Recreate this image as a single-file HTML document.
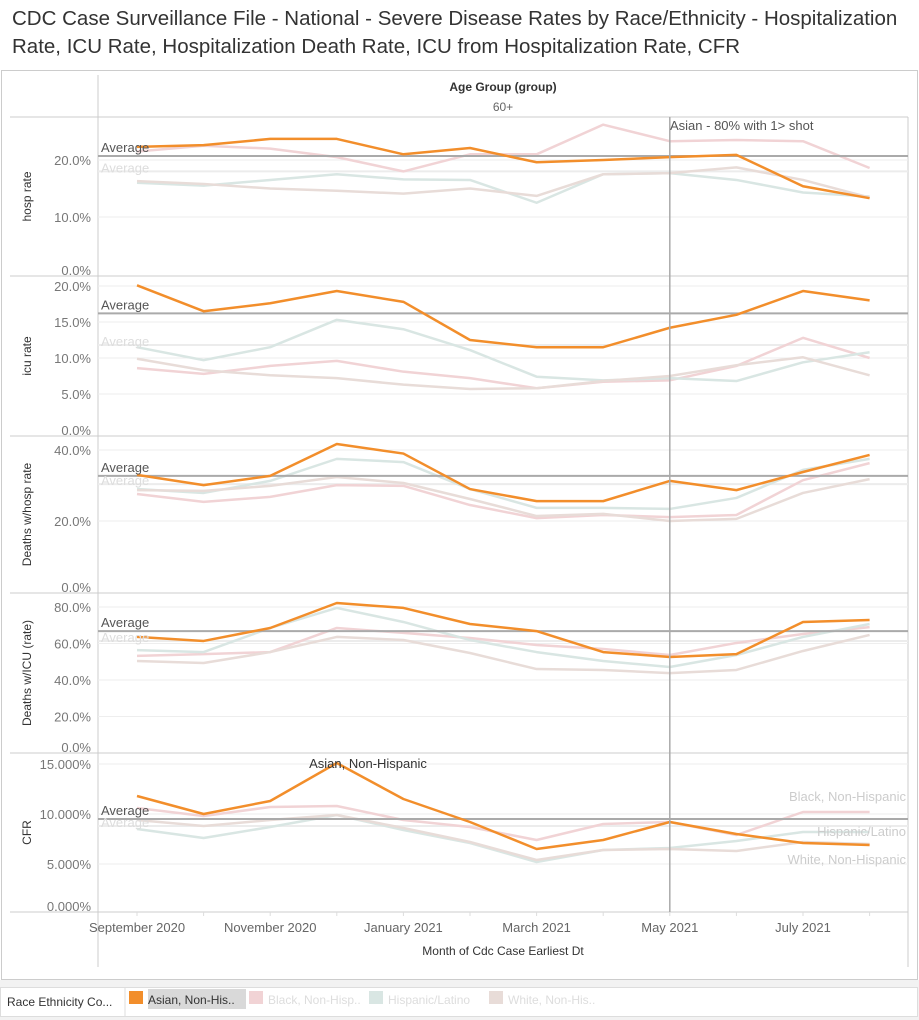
<!DOCTYPE html>
<html><head><meta charset="utf-8"><style>
body{margin:0;width:919px;height:1020px;background:#fff;font-family:"Liberation Sans",sans-serif;overflow:hidden;position:relative}
#title{position:absolute;left:12px;top:5px;font-size:20.5px;line-height:28px;color:#333;width:905px}
svg{position:absolute;left:0;top:0}
</style></head><body>
<div id="title">CDC Case Surveillance File - National - Severe Disease Rates by Race/Ethnicity - Hospitalization Rate, ICU Rate, Hospitalization Death Rate, ICU from Hospitalization Rate, CFR</div>
<svg id="c" width="919" height="1020"></svg>
<script>
const months=["Sep 2020","Oct 2020","Nov 2020","Dec 2020","Jan 2021","Feb 2021","Mar 2021","Apr 2021","May 2021","Jun 2021","Jul 2021","Aug 2021"];
const xLabels=[["September 2020",0],["November 2020",2],["January 2021",4],["March 2021",6],["May 2021",8],["July 2021",10]];
const seriesNames=["Black, Non-Hispanic","Hispanic/Latino","White, Non-Hispanic","Asian, Non-Hispanic"];
const hospAsian=[22.3,22.6,23.7,23.7,21,22.1,19.6,20,20.5,20.9,15.4,13.3];
const hospBlack=[21.5,22.5,22,20.5,18,21,21,26.2,23.3,23.5,23.3,18.6];
const hospHisp=[16,15.5,16.5,17.5,16.6,16.5,12.5,17.5,17.7,16.5,14.3,13.6];
const hospWhite=[16.3,15.8,15,14.6,14.1,15,13.7,17.5,17.7,18.7,16.5,13.4];
const icuAsian=[20.1,16.5,17.6,19.3,17.8,12.5,11.5,11.5,14.2,16,19.3,18];
const icuBlack=[8.6,7.8,8.9,9.6,8.1,7.2,5.8,6.7,6.9,8.9,12.8,10];
const icuHisp=[11.5,9.7,11.5,15.3,14,11.1,7.4,6.9,7.2,6.8,9.4,10.8];
const icuWhite=[9.9,8.3,7.6,7.2,6.3,5.7,5.8,6.8,7.5,9,10.1,7.6];
const dhAsian=[33,30.1,32.7,41.7,39,29,25.6,25.6,31.3,28.7,33.8,38.6];
const dhBlack=[27.6,25.4,26.8,30.1,29.9,24.5,20.8,21.7,21.1,21.7,31.5,36.3];
const dhHisp=[29,27.9,31.3,37.5,36.6,29,23.7,23.7,23.4,26.5,34.4,37.5];
const dhWhite=[28.7,28.5,29.9,32.4,30.7,26.2,21.4,22,20,20.6,27.9,31.8];
const diAsian=[63.6,61.4,68.5,82.2,79.5,70.7,66.8,55.3,52.6,54.2,71.8,72.9];
const diBlack=[53.2,54.2,55.3,68.5,65.8,63,59.2,57,53.7,60.3,65.2,69];
const diHisp=[56.4,55.3,68.5,79.5,71.8,61.9,55.3,50.4,47.1,53.7,63.6,70.7];
const diWhite=[50.4,49.3,55.3,63.6,61.9,54.8,46,45.5,43.8,45.5,55.9,64.7];
const cfrAsian=[11.8,10,11.3,15.1,11.5,9.2,6.5,7.4,9.2,8,7.1,6.9];
const cfrBlack=[10.6,9.8,10.7,10.8,9.4,8.7,7.4,9,9.2,7.9,10.2,10.2];
const cfrHisp=[8.5,7.6,8.7,9.9,8.4,7.1,5.2,6.4,6.6,7.3,8.2,8.2];
const cfrWhite=[9.4,8.8,9.4,9.9,8.6,7.2,5.4,6.4,6.5,6.3,7.2,7];
const panels=[
 {name:"hosp rate",key:"hosp",top:117,bot:276,zero:274,ppu:5.7,ticks:[0,10,20],fmt:v=>v.toFixed(1)+"%",avgA:20.7,avgO:18,data:[hospBlack,hospHisp,hospWhite,hospAsian]},
 {name:"icu rate",key:"icu",top:276,bot:436,zero:430,ppu:7.2,ticks:[0,5,10,15,20],fmt:v=>v.toFixed(1)+"%",avgA:16.2,avgO:11.8,data:[icuBlack,icuHisp,icuWhite,icuAsian]},
 {name:"Deaths w/hosp rate",key:"deaths-hosp",top:436,bot:593,zero:592,ppu:3.55,ticks:[0,20,40],fmt:v=>v.toFixed(1)+"%",avgA:32.7,avgO:30.4,data:[dhBlack,dhHisp,dhWhite,dhAsian]},
 {name:"Deaths w/ICU (rate)",key:"deaths-icu",top:593,bot:753,zero:753,ppu:1.825,ticks:[0,20,40,60,80],fmt:v=>v.toFixed(1)+"%",avgA:66.8,avgO:61.4,data:[diBlack,diHisp,diWhite,diAsian]},
 {name:"CFR",key:"cfr",top:753,bot:912,zero:914,ppu:10,ticks:[0,5,10,15],fmt:v=>v.toFixed(3)+"%",avgA:9.5,avgO:8.8,data:[cfrBlack,cfrHisp,cfrWhite,cfrAsian]}
];
const colors=["#f1d3d5","#d9e6e3","#e8dcd8","#f28e2b"];
const svg=document.getElementById('c');const NS="http://www.w3.org/2000/svg";
function mk(t,a,p){const e=document.createElementNS(NS,t);for(const k in a)e.setAttribute(k,a[k]);(p||svg).appendChild(e);return e;}
function tx(x,y,s,a){const e=mk('text',Object.assign({x:x,y:y,'font-size':12,fill:'#666','font-family':'Liberation Sans, sans-serif'},a||{}));e.textContent=s;return e;}
const X=i=>137+i*66.6;
const L=98,R=908;
mk('rect',{x:1.5,y:70.5,width:916,height:909,fill:'none',stroke:'#ccc'});
mk('line',{x1:L,y1:75,x2:L,y2:967,stroke:'#ccc'});
mk('line',{x1:R,y1:117,x2:R,y2:967,stroke:'#ccc'});
let h=tx(503,91,"Age Group (group)",{'text-anchor':'middle','font-weight':'bold',fill:'#333'});

tx(503,111,"60+",{'text-anchor':'middle'});
panels.forEach((p,pi)=>{
 const g=mk('g',{});
 
 
 const Y=v=>p.zero-v*p.ppu;
 mk('line',{x1:10,y1:p.top,x2:R,y2:p.top,stroke:'#ccc'},g);
 p.ticks.forEach(t=>{
  if(t>0)mk('line',{x1:L,y1:Y(t),x2:R,y2:Y(t),stroke:'#eee'},g);
  let yy=Math.min(Y(t),p.bot-6)+5;
  tx(91,yy,p.fmt(t),{'text-anchor':'end','font-size':13,fill:'#777'});
 });
 const yt=tx(0,0,p.name,{'text-anchor':'middle',fill:'#333',transform:`translate(31,${(p.top+p.bot)/2}) rotate(-90)`});
 
 
 mk('line',{x1:L,y1:Y(p.avgO),x2:R,y2:Y(p.avgO),stroke:'#ececec','stroke-width':2},g);
 tx(101,Y(p.avgO)+1,"Average",{fill:'#ddd','font-size':13});
 p.data.forEach((d,si)=>{
  if(si==3){
   mk('line',{x1:L,y1:Y(p.avgA),x2:R,y2:Y(p.avgA),stroke:'#aaa','stroke-width':2},g);
   tx(101,Y(p.avgA)-4,"Average",{fill:'#555','font-size':13});
  }
  const pl=mk('polyline',{points:d.map((v,i)=>X(i)+','+Y(v)).join(' '),fill:'none',stroke:colors[si],'stroke-width':2.5,'stroke-linejoin':'round'},g);
  
  
 });
 if(pi==4){
  const d=p.data;
  tx(368,Y(d[3][3])+5,"Asian, Non-Hispanic",{'text-anchor':'middle',fill:'#333','font-size':13});
  tx(906,Y(d[0][11])-11,"Black, Non-Hispanic",{'text-anchor':'end',fill:'#ccc','font-size':13});
  tx(906,Y(d[1][11])+4,"Hispanic/Latino",{'text-anchor':'end',fill:'#ccc','font-size':13});
  tx(906,Y(d[2][11])+20,"White, Non-Hispanic",{'text-anchor':'end',fill:'#ccc','font-size':13});
 }
});
mk('line',{x1:10,y1:912,x2:R,y2:912,stroke:'#ccc'});
const vl=mk('line',{x1:X(8),y1:117,x2:X(8),y2:912,stroke:'#aaa','stroke-width':1.5});


tx(670,130,"Asian - 80% with 1> shot",{fill:'#555','font-size':13});
months.forEach((m,i)=>mk('line',{x1:X(i),y1:912,x2:X(i),y2:916,stroke:'#ddd'}));
xLabels.forEach(l=>tx(X(l[1]),932,l[0],{'text-anchor':'middle','font-size':13}));
const xt=tx(503,955,"Month of Cdc Case Earliest Dt",{'text-anchor':'middle',fill:'#333'});


mk('rect',{x:0,y:980,width:919,height:40,fill:'#f2f2f2'});
mk('rect',{x:0.5,y:987.5,width:917,height:29,fill:'#fff',stroke:'#ddd'});
mk('line',{x1:125,y1:988,x2:125,y2:1016,stroke:'#ddd'});
tx(7,1006,"Race Ethnicity Co...",{fill:'#333'});
const legendItems=[["Asian, Non-His..",129,"#f28e2b"],["Black, Non-Hisp..",249,"#f1d3d5"],["Hispanic/Latino",369,"#d9e6e3"],["White, Non-His..",489,"#e8dcd8"]];
legendItems.forEach((it,i)=>{
 const g=mk('g',{});
 
 
 if(i==0)mk('rect',{x:148,y:989,width:98,height:20,fill:'#d9d9d9'},g);
 mk('rect',{x:it[1],y:991,width:14,height:13,fill:it[2]},g);
 tx(it[1]+19,1004,it[0],{fill:i==0?'#333':'#ddd'});
});
</script>
</body></html>
